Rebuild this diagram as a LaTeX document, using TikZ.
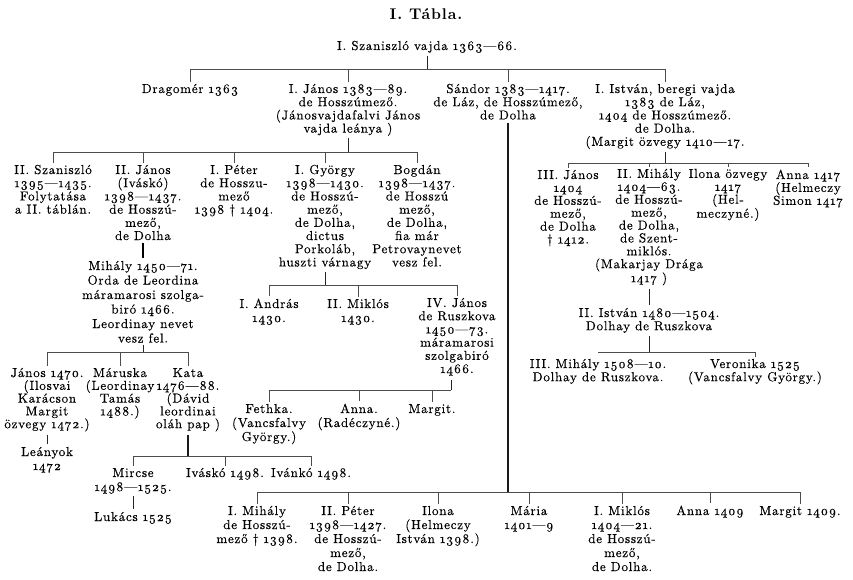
\documentclass[tikz,border=0pt]{standalone}
\usepackage{fontspec}
\setmainfont{lmroman10}[Extension=.otf, UprightFont=*-regular, BoldFont=*-bold, UprightFeatures={FakeBold=0.35}, Numbers=OldStyle, LetterSpace=6]
\begin{document}
\begin{tikzpicture}[x=1pt,y=-1pt,
  font=\fontsize{13}{13.2}\selectfont,
  p/.style={align=center, inner sep=0pt, anchor=base},
  wide/.style={font=\fontsize{13}{14.5}\selectfont},
  mid/.style={font=\fontsize{13}{14}\selectfont},
  tight/.style={font=\fontsize{13}{12.9}\selectfont},
  bar/.style={line width=0.6pt, black!70},
  stem/.style={line width=0.9pt, black!85},
  heavystem/.style={line width=1.4pt, black!90}]
\useasboundingbox (0,0) rectangle (853,580);
% (anchor=base is the baseline of the LAST line of each node)
% title and root
\node[p, font=\fontsize{15.5}{16}\bfseries] (title) at (426,20) {I. Tábla.};
\node[p] (root) at (427,50) {I. Szaniszló vajda 1363—66.};
% generation 2
\node[p] (drag) at (190,93) {Dragomér 1363};
\node[p] (jan1) at (348,132.6) {I. János 1383—89.\\de Hosszúmező.\\(Jánosvajdafalvi János\\vajda leánya )};
\node[p] (sand) at (508,119.4) {Sándor 1383—1417.\\de Láz, de Hosszúmező,\\de Dolha};
\node[p] (ist1) at (665,145.8) {I. István, beregi vajda\\1383 de Láz,\\1404 de Hosszúmező.\\de Dolha.\\(Margit özvegy 1410—17.};
% children of I. Janos
\node[p] (sz2) at (53,213.6) {II. Szaniszló\\1395—1435.\\Folytatása\\a II. táblán.};
\node[p] (jan2) at (143,240) {II. János\\(Iváskó)\\1398—1437.\\de Hosszú-\\mező,\\de Dolha};
\node[p] (pet1) at (234,213.6) {I. Péter\\de Hosszu-\\mező\\1398 † 1404.};
\node[p] (gyo1) at (325,266.4) {I. György\\1398—1430.\\de Hosszú-\\mező,\\de Dolha,\\dictus\\Porkoláb,\\huszti várnagy};
\node[p] (bog) at (417,266.4) {Bogdán\\1398—1437.\\de Hosszú\\mező,\\de Dolha,\\fia már\\Petrovaynevet\\vesz fel.};
% children of I. Istvan
\node[p, tight] (jan3) at (568,243.5) {III. János\\1404\\de Hosszú-\\mező,\\de Dolha\\† 1412.};
\node[p, tight] (mih2) at (649,282.2) {II. Mihály\\1404—63.\\de Hosszú-\\mező,\\de Dolha,\\de Szent-\\miklós.\\(Makarjay Drága\\1417 )};
\node[p, tight] (ilo2) at (728,217.7) {Ilona özvegy\\1417\\(Hel-\\meczyné.)};
\node[p, tight] (anna3) at (808,204.8) {Anna 1417\\(Helmeczy\\Simon 1417};
\node[p] (ist2) at (649,330.2) {II. István 1480—1504.\\Dolhay de Ruszkova};
\node[p] (mih3) at (598,381.2) {III. Mihály 1508—10.\\Dolhay de Ruszkova.};
\node[p] (vero) at (755,381.2) {Veronika 1525\\(Vancsfalvy György.)};
% Mihaly line
\node[p, wide] (mih) at (143,342.5) {Mihály 1450—71.\\Orda de Leordina\\máramarosi szolga-\\biró 1466.\\Leordinay nevet\\vesz fel.};
\node[p, font=\fontsize{13}{12.8}\selectfont] (janx) at (47,428.2) {János 1470.\\(Ilosvai\\Karácson\\Margit\\özvegy 1472.)};
\node[p, font=\fontsize{13}{12.8}\selectfont] (mar) at (120,415.4) {Máruska\\(Leordinay\\Tamás\\1488.)};
\node[p, font=\fontsize{13}{12.8}\selectfont] (kata) at (188,428.2) {Kata\\1476—88.\\(Dávid\\leordinai\\oláh pap )};
\node[p, mid] (leany) at (47,470) {Leányok\\1472};
\node[p, mid] (mirc) at (133,491) {Mircse\\1498—1525.};
\node[p] (ivas) at (225,477) {Iváskó 1498.};
\node[p] (ivank) at (311,477) {Ivánkó 1498.};
\node[p] (luk) at (133,521) {Lukács 1525};
% children of I. Gyorgy
\node[p, mid] (andr) at (269,322) {I. András\\1430.};
\node[p, mid] (mik2) at (358,322) {II. Miklós\\1430.};
\node[p] (jan4) at (457,373) {IV. János\\de Ruszkova\\1450—73.\\máramarosi\\szolgabiró\\1466.};
\node[p, mid] (feth) at (269,441) {Fethka.\\(Vancsfalvy\\György.)};
\node[p, mid] (anna1) at (359,427) {Anna.\\(Radéczyné.)};
\node[p] (marg1) at (432,413) {Margit.};
% children of Sandor
\node[p, mid] (mih1) at (257,543) {I. Mihály\\de Hosszú-\\mező † 1398.};
\node[p, mid] (pet2) at (348,571) {II. Péter\\1398—1427.\\de Hosszú-\\mező,\\de Dolha.};
\node[p, mid] (ilo1) at (438,543) {Ilona\\(Helmeczy\\István 1398.)};
\node[p, mid] (mari) at (529,529) {Mária\\1401—9};
\node[p, mid] (mik1) at (622,571) {I. Miklós\\1404—21.\\de Hosszú-\\mező,\\de Dolha.};
\node[p] (anna2) at (710,515) {Anna 1409};
\node[p] (marg2) at (800,515) {Margit 1409.};
% ---------- connectors ----------
% root
\draw[stem] ([yshift=-3pt]root.south) -- (root.south |- 0,69);
\draw[bar] (drag.north |- 0,69) -- (ist1.north |- 0,69);
\foreach \c in {drag,jan1,sand,ist1} \draw[bar] (\c.north |- 0,69) -- ([yshift=2pt]\c.north);
% I. Janos
\draw[stem] ([yshift=-2pt]jan1.south) -- (jan1.south |- 0,152);
\draw[bar] (sz2.north |- 0,152) -- (bog.north |- 0,152);
\foreach \c in {sz2,jan2,pet1,gyo1,bog} \draw[bar] (\c.north |- 0,152) -- ([yshift=2pt]\c.north);
% Sandor
\draw[heavystem] ([yshift=-3pt]sand.south) -- (sand.south |- 0,492);
\draw[bar] (mih1.north |- 0,492) -- (marg2.north |- 0,492);
\foreach \c in {mih1,pet2,ilo1,mari,mik1,anna2,marg2} \draw[bar] (\c.north |- 0,492) -- ([yshift=2pt]\c.north);
% I. Istvan
\draw[stem] ([yshift=-3pt]ist1.south) -- (ist1.south |- 0,163);
\draw[bar] (jan3.north |- 0,163) -- (anna3.north |- 0,163);
\foreach \c in {jan3,mih2,ilo2,anna3} \draw[bar] (\c.north |- 0,163) -- ([yshift=2pt]\c.north);
\draw[stem] ([yshift=-3pt]mih2.south) -- ([yshift=3pt]ist2.north);
\coordinate (i2s) at ([yshift=-3pt]ist2.south);
\draw[stem] (i2s) -- (i2s |- 0,352);
\draw[bar] (mih3.north |- 0,352) -- (vero.north |- 0,352);
\draw[bar] (vero.north |- 0,352) -- ([yshift=2pt]vero.north);
% II. Janos -> Mihaly
\draw[line width=1.2pt] ([yshift=-3pt]jan2.south) -- ([yshift=3pt]mih.north);
\draw[stem] ([yshift=-2pt]mih.south) -- (mih.south |- 0,352);
\draw[bar] (janx.north |- 0,352) -- (kata.north |- 0,352);
\foreach \c in {janx,mar,kata} \draw[bar] (\c.north |- 0,352) -- ([yshift=2pt]\c.north);
\draw[stem] ([yshift=-3pt]janx.south) -- ([yshift=3pt]leany.north);
\draw[heavystem] ([yshift=-3pt]kata.south) -- (kata.south |- 0,456);
\draw[bar] (mirc.north |- 0,456) -- (ivank.north |- 0,456);
\foreach \c in {mirc,ivas,ivank} \draw[bar] (\c.north |- 0,456) -- ([yshift=2pt]\c.north);
\draw[stem] ([yshift=-2pt]mirc.south) -- ([yshift=3pt]luk.north);
% I. Gyorgy
\draw[stem] ([yshift=-3pt]gyo1.south) -- (gyo1.south |- 0,285);
\draw[bar] (andr.north |- 0,285) -- (jan4.north |- 0,285);
\foreach \c in {andr,mik2,jan4} \draw[bar] (\c.north |- 0,285) -- ([yshift=2pt]\c.north);
\coordinate (j4s) at ([xshift=-6pt,yshift=-4pt]jan4.south);
\draw[stem] (j4s) -- (j4s |- 0,390);
\draw[bar] (feth.north |- 0,390) -- (j4s |- 0,390);
\foreach \c in {feth,anna1,marg1} \draw[bar] (\c.north |- 0,390) -- ([yshift=2pt]\c.north);
\end{tikzpicture}
\end{document}
